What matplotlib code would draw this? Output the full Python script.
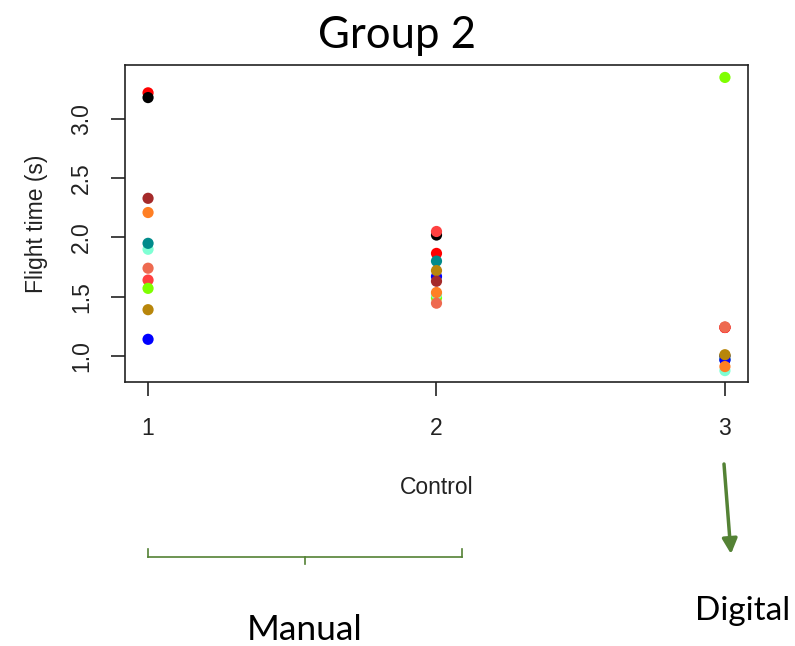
import matplotlib
matplotlib.use("Agg")
import matplotlib.pyplot as plt
from matplotlib.lines import Line2D

# one entry per plotted point, in drawing order (later points sit on top)
group = [1, 1, 1, 1, 1, 1, 1, 1, 1, 1, 1,
         2, 2, 2, 2, 2, 2, 2, 2, 2, 2, 2,
         3, 3, 3, 3, 3, 3, 3, 3, 3, 3, 3]
flight_time = [3.22, 3.18, 2.33, 2.21, 1.90, 1.95, 1.74, 1.64, 1.57, 1.39, 1.14,
               1.49, 1.52, 2.02, 2.05, 1.865, 1.80, 1.67, 1.72, 1.63, 1.535, 1.445,
               1.24, 1.24, 0.97, 1.24, 1.00, 1.245, 0.876, 0.965, 1.01, 0.91, 3.35]
point_colors = ["#FF0000", "#000000", "#A52A2A", "#FF7F24", "#7FFFD4", "#008B8B",
                "#EE6A50", "#FF4040", "#7FFF00", "#B8860B", "#0000FF",
                "#7FFF00", "#7FFFD4", "#000000", "#FF4040", "#FF0000", "#008B8B",
                "#0000FF", "#B8860B", "#A52A2A", "#FF7F24", "#EE6A50",
                "#A52A2A", "#FF0000", "#008B8B", "#FF4040", "#000000", "#EE6A50",
                "#7FFFD4", "#0000FF", "#B8860B", "#FF7F24", "#7FFF00"]
x_ticks = [1, 2, 3]
y_ticks = [1.0, 1.5, 2.0, 2.5, 3.0]

green = "#548235"
txt = "#222222"

fig = plt.figure(figsize=(7.95, 6.46), dpi=100)
ax = fig.add_axes([0.1572, 0.4087, 0.7837, 0.4907])

ax.scatter(group, flight_time, c=point_colors, s=65, linewidths=0, zorder=3)

ax.set_xlim(0.92, 3.08)
ax.set_ylim(0.78, 3.455)
ax.set_xticks(x_ticks)
ax.set_xticklabels([str(v) for v in x_ticks])
ax.set_yticks(y_ticks)
ax.set_yticklabels([f"{v:.1f}" for v in y_ticks], rotation=90, va="center")

for s in ax.spines.values():
    s.set_linewidth(1.2)
    s.set_color(txt)
ax.tick_params(length=10, width=1.2, color=txt, labelsize=16.5, labelcolor=txt)
ax.tick_params(axis="x", pad=15)
ax.tick_params(axis="y", pad=13)
for lab in ax.get_xticklabels() + ax.get_yticklabels():
    lab.set_family("Liberation Sans")

ax.set_xlabel("Control", fontsize=16.5, family="Liberation Sans", color=txt, labelpad=26)
ax.set_ylabel("Flight time (s)", fontsize=16.5, family="Liberation Sans", color=txt, labelpad=16)

W, H = 795, 646
def fx(px):
    return px / W
def fy(py):
    return 1 - py / H

fig.text(0.5, fy(35), "Group 2", ha="center", va="center", fontsize=31.5, family="Lato")

# bracket under groups 1 and 2
bracket = [([148, 148], [549, 557]), ([148, 462], [557, 557]),
           ([462, 462], [557, 549]), ([305, 305], [557, 564])]
for xs, ys in bracket:
    fig.add_artist(Line2D([fx(v) for v in xs], [fy(v) for v in ys],
                          transform=fig.transFigure, color=green, lw=1.2))

fig.text(fx(305), fy(630), "Manual", ha="center", va="center", fontsize=25.5, family="Lato")

ax.annotate("", xy=(fx(731), fy(554)), xytext=(fx(724), fy(464)),
            xycoords="figure fraction", textcoords="figure fraction",
            arrowprops=dict(arrowstyle="-|>,head_length=0.9,head_width=0.45",
                            color=green, lw=2.5, shrinkA=0, shrinkB=0))
fig.text(fx(743), fy(611), "Digital", ha="center", va="center", fontsize=24, family="Lato")

fig.savefig("out.png", dpi=100)
